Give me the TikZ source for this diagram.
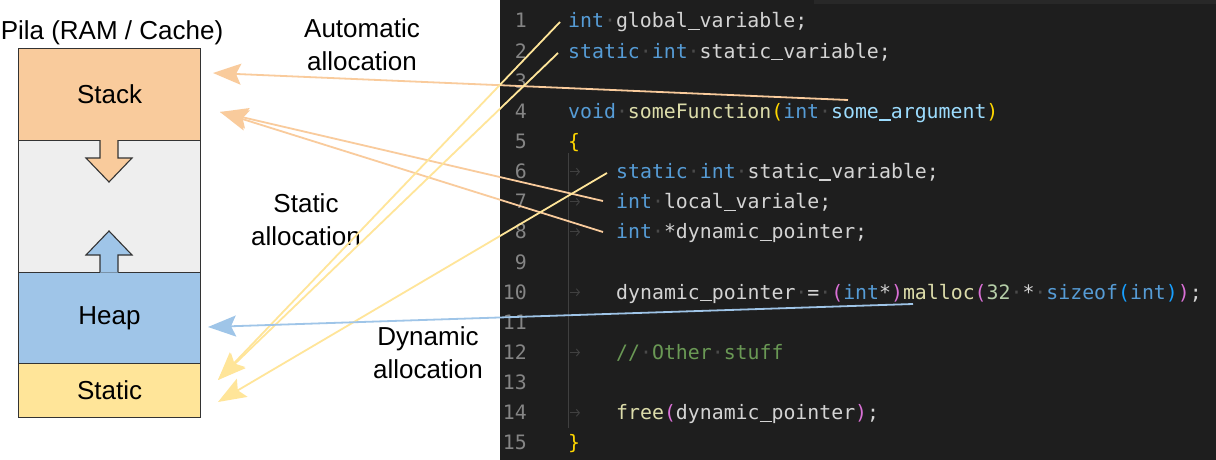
\documentclass[tikz,border=0pt]{standalone}
\usepackage{fontspec}
\setmainfont{Liberation Sans}
\newfontfamily\codefont{DejaVu Sans Mono}
\usetikzlibrary{arrows.meta}
\definecolor{stackc}{HTML}{F9CB9C}
\definecolor{gapc}{HTML}{EEEEEE}
\definecolor{heapc}{HTML}{9FC5E8}
\definecolor{staticc}{HTML}{FFE599}
\definecolor{bgc}{HTML}{1E1E1E}
\definecolor{topc}{HTML}{282828}
\definecolor{kwc}{HTML}{569CD6}
\definecolor{idc}{HTML}{D4D4D4}
\definecolor{parc}{HTML}{9CDCFE}
\definecolor{fnc}{HTML}{DCDCAA}
\definecolor{numc}{HTML}{B5CEA8}
\definecolor{cmc}{HTML}{6A9955}
\definecolor{goldc}{HTML}{FFD700}
\definecolor{orchc}{HTML}{DA70D6}
\definecolor{bbluc}{HTML}{179FFF}
\definecolor{lnc}{HTML}{858585}
\definecolor{wsc}{HTML}{4A4A4A}
\definecolor{guidec}{HTML}{404040}
\definecolor{edgec}{HTML}{333333}
\newcommand{\ckw}[1]{\textcolor{kwc}{#1}}
\newcommand{\cpa}[1]{\textcolor{parc}{#1}}
\newcommand{\cfn}[1]{\textcolor{fnc}{#1}}
\newcommand{\cnm}[1]{\textcolor{numc}{#1}}
\newcommand{\ccm}[1]{\textcolor{cmc}{#1}}
\newcommand{\cgo}[1]{\textcolor{goldc}{#1}}
\newcommand{\cor}[1]{\textcolor{orchc}{#1}}
\newcommand{\cbl}[1]{\textcolor{bbluc}{#1}}
\newcommand{\wsd}{\textcolor{wsc}{·}}
\newcommand{\usc}{\makebox[0.602em][l]{\rule[-0.11em]{0.602em}{0.075em}}}
\begin{document}
\begin{tikzpicture}[x=1pt,y=-1pt,
  mem/.style={draw=edgec, line width=1.1pt, minimum width=182pt, inner sep=0pt, anchor=north west,
              font=\fontsize{26}{30}\selectfont},
  lbl/.style={align=center, inner sep=0pt, font=\fontsize{26}{33}\selectfont},
  code/.style={anchor=base west, inner sep=0pt, font=\codefont\fontsize{19.85}{24}\selectfont, text=idc},
  lnum/.style={anchor=base east, inner sep=0pt, font=\codefont\fontsize{19.85}{24}\selectfont, text=lnc},
  conn/.style={line width=1.8pt, -{Stealth[length=28pt,width=21pt,inset=5pt]}},
  tabmark/.style={draw=guidec, line width=1pt, -{Straight Barb[length=3pt,width=7pt]}}
]
\useasboundingbox (0,0) rectangle (1216,460);
\fill[white] (0,0) rectangle (1216,460);

% ---------------- memory column ----------------
\node[lbl] (title) at (112,33) {Pila (RAM / Cache)};
\node[mem, fill=gapc, minimum height=132pt] (gap) at (18,140) {};
\node[mem, fill=stackc, minimum height=92pt] (stack) at (18,48) {Stack};
\node[mem, fill=heapc, minimum height=91pt] (heap) at (18,272) {Heap};
\node[mem, fill=staticc, minimum height=54pt] (static) at (18,363) {Static};

% block arrows
\fill[stackc] (100,139.5) -- (100,158) -- (86,158) -- (109,182) -- (132,158) -- (118,158) -- (118,139.5) -- cycle;
\draw[edgec, line width=1.1pt, line join=miter] (100,140) -- (100,158) -- (86,158) -- (109,182) -- (132,158) -- (118,158) -- (118,140);
\fill[heapc] (100,272.5) -- (100,255) -- (86,255) -- (109,231) -- (132,255) -- (118,255) -- (118,272.5) -- cycle;
\draw[edgec, line width=1.1pt, line join=miter] (100,272) -- (100,255) -- (86,255) -- (109,231) -- (132,255) -- (118,255) -- (118,272);

% ---------------- code panel ----------------
\fill[bgc] (500,0) rectangle (1216,460);
\fill[topc] (814,0) rectangle (1216,4);
\draw[guidec, line width=1pt] (568,153) -- (568,428);

\foreach \n/\yy in {1/28,2/58.14,3/88.28,4/118.42,5/148.56,6/178.7,7/208.84,8/238.98,9/269.12,10/299.26,11/329.4,12/359.54,13/389.68,14/419.82,15/449.96}{
  \node[lnum] (ln\n) at (527,\yy) {\n};
}
\foreach \yy in {178.7,208.84,238.98,299.26,359.54,419.82}{
  \draw[tabmark] (570,\yy-7) -- (580,\yy-7);
}

\node[code] (c1) at (568,28) {\ckw{int}\wsd global\usc variable;};
\node[code] (c2) at (568,58.14) {\ckw{static}\wsd\ckw{int}\wsd static\usc variable;};
\node[code] (c4) at (568,118.42) {\ckw{void}\wsd\cfn{someFunction}\cgo{(}\ckw{int}\wsd\cpa{some\usc argument}\cgo{)}};
\node[code] (c5) at (568,148.56) {\cgo{\{}};
\node[code] (c6) at (616,178.7) {\ckw{static}\wsd\ckw{int}\wsd static\usc variable;};
\node[code] (c7) at (616,208.84) {\ckw{int}\wsd local\usc variale;};
\node[code] (c8) at (616,238.98) {\ckw{int}\wsd *dynamic\usc pointer;};
\node[code] (c10) at (616,299.26) {dynamic\usc pointer\wsd=\wsd\cor{(}\ckw{int}*\cor{)}\cfn{malloc}\cor{(}\cnm{32}\wsd*\wsd\ckw{sizeof}\cbl{(}\ckw{int}\cbl{)}\cor{)};};
\node[code] (c12) at (616,359.54) {\ccm{//\textcolor{wsc}{·}Other\textcolor{wsc}{·}stuff}};
\node[code] (c14) at (616,419.82) {\cfn{free}\cor{(}dynamic\usc pointer\cor{)};};
\node[code] (c15) at (568,449.96) {\cgo{\}}};

% ---------------- labels ----------------
\node[lbl] (autol) at (362,45) {Automatic\\allocation};
\node[lbl] (statl) at (306,220) {Static\\allocation};
\node[lbl] (dynl) at (428,353) {Dynamic\\allocation};

% ---------------- connector endpoints ----------------
\coordinate (sArg) at (848,100);
\coordinate (sLoc) at (603,201);
\coordinate (sPtr) at (603,232);
\coordinate (sGlob) at (560,22);
\coordinate (sStat) at (558,53);
\coordinate (sStat6) at (607,173);
\coordinate (sMal) at (913,304);
\coordinate (tStack1) at (213,73);
\coordinate (tStack2) at (220,112);
\coordinate (tStatic1) at (218,380);
\coordinate (tStatic2) at (218,402);
\coordinate (tHeap) at (208,327);

\draw[conn, stackc] (sArg) -- (tStack1);
\draw[conn, stackc] (sLoc) -- (tStack2);
\draw[conn, stackc] (sPtr) -- (tStack2);
\draw[conn, staticc] (sGlob) -- (tStatic1);
\draw[conn, staticc] (sStat) -- (tStatic1);
\draw[conn, staticc] (sStat6) -- (tStatic2);
\draw[conn, heapc] (sMal) -- (tHeap);
\end{tikzpicture}
\end{document}
